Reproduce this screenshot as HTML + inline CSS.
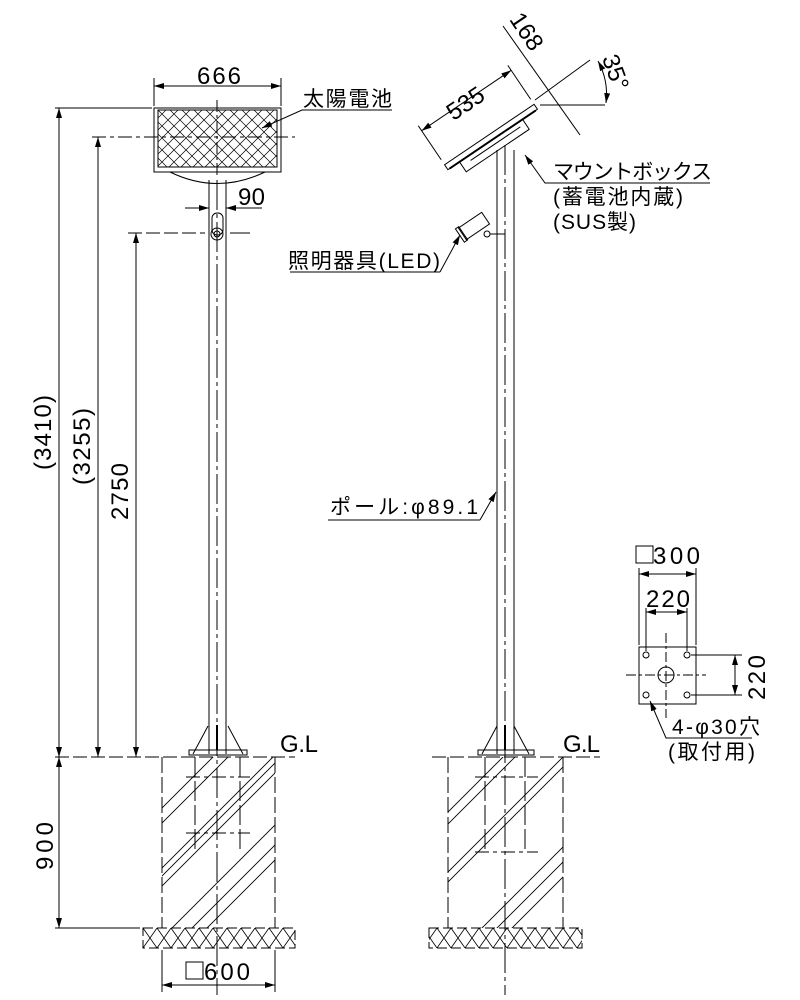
<!DOCTYPE html>
<html><head><meta charset="utf-8"><style>
html,body{margin:0;padding:0;background:#fff;}
svg{display:block;}
text{font-family:"Liberation Sans","Noto Sans CJK JP",sans-serif;fill:#000;}
</style></head><body>
<svg width="800" height="1000" viewBox="0 0 800 1000" xmlns="http://www.w3.org/2000/svg">
<defs>
<pattern id="xh" width="12" height="12" patternUnits="userSpaceOnUse">
<path d="M0,0L12,12M12,0L0,12" stroke="#000" stroke-width="0.7"/>
</pattern>
<pattern id="gr" width="14" height="20" patternUnits="userSpaceOnUse" x="143" y="928">
<path d="M0,0L14,20M14,0L0,20" stroke="#000" stroke-width="0.8"/>
</pattern>
<clipPath id="cl"><rect x="162" y="757" width="113" height="171"/></clipPath>
<clipPath id="cr"><rect x="448" y="757" width="115" height="171"/></clipPath>
<marker id="a" viewBox="0 0 10 6" refX="10" refY="3" markerWidth="10" markerHeight="6" orient="auto-start-reverse" markerUnits="userSpaceOnUse"><path d="M0,0L10,3L0,6z" fill="#000"/></marker>
</defs>
<g fill="none" stroke="#000" stroke-width="1">
<rect x="154" y="108" width="127" height="64"/>
<rect x="158" y="110" width="119" height="57" fill="url(#xh)"/>
<path d="M170,172 Q217,195 265,172"/>
<line x1="217" y1="100" x2="217" y2="175" stroke-dasharray="12,3,3,3"/>
<line x1="92" y1="137" x2="295" y2="137" stroke-dasharray="14,4,4,4"/>
<line x1="55" y1="108" x2="152" y2="108"/>
<line x1="154" y1="78" x2="154" y2="106"/><line x1="281" y1="78" x2="281" y2="106"/>
<line x1="154" y1="86" x2="281" y2="86" marker-start="url(#a)" marker-end="url(#a)"/>
<line x1="209" y1="180" x2="209" y2="754"/><line x1="226" y1="180" x2="226" y2="754"/>
<line x1="217" y1="180" x2="217" y2="995" stroke-dasharray="30,4,4,4"/>
<line x1="185" y1="208" x2="209" y2="208" marker-end="url(#a)"/>
<line x1="226" y1="208" x2="262" y2="208" marker-start="url(#a)"/>
<rect x="212" y="213" width="11" height="22" rx="5"/>
<circle cx="217" cy="234" r="6"/><circle cx="217" cy="234" r="3"/>
<line x1="128" y1="233" x2="205" y2="233" stroke-dasharray="14,4"/>
<line x1="230" y1="233" x2="250" y2="233"/>
<line x1="208" y1="726" x2="193" y2="754"/><line x1="228" y1="726" x2="243" y2="754"/>
<rect x="189" y="750" width="58" height="5"/>
<line x1="217" y1="725" x2="217" y2="750" stroke-width="2"/>
<line x1="55" y1="757" x2="295" y2="757" stroke-dasharray="14,4"/>
<line x1="162" y1="757" x2="162" y2="928" stroke-dasharray="16,4"/>
<line x1="275" y1="757" x2="275" y2="928" stroke-dasharray="16,4"/>
<line x1="195" y1="757" x2="195" y2="850" stroke-dasharray="20,4"/>
<line x1="240" y1="757" x2="240" y2="850" stroke-dasharray="20,4"/>
<line x1="186" y1="777" x2="250" y2="777" stroke-dasharray="14,4,4,4"/>
<line x1="186" y1="833" x2="250" y2="833" stroke-dasharray="14,4,4,4"/>
<g clip-path="url(#cl)" stroke-width="0.9">
<line x1="150" y1="820" x2="220" y2="750"/><line x1="150" y1="835" x2="230" y2="755"/>
<line x1="150" y1="880" x2="280" y2="750"/><line x1="150" y1="888" x2="280" y2="758"/><line x1="150" y1="898" x2="280" y2="768"/>
<line x1="170" y1="930" x2="290" y2="810"/><line x1="190" y1="930" x2="290" y2="830"/><line x1="205" y1="930" x2="290" y2="845"/>
</g>
<rect x="143" y="928" width="152" height="20" fill="url(#gr)" stroke-dasharray="10,4"/>
<line x1="162" y1="950" x2="162" y2="992"/><line x1="275" y1="950" x2="275" y2="992"/>
<line x1="162" y1="985" x2="275" y2="985" marker-start="url(#a)" marker-end="url(#a)"/>
<line x1="59" y1="108" x2="59" y2="757" marker-start="url(#a)" marker-end="url(#a)"/>
<line x1="98" y1="137" x2="98" y2="757" marker-start="url(#a)" marker-end="url(#a)"/>
<line x1="136" y1="233" x2="136" y2="757" marker-start="url(#a)" marker-end="url(#a)"/>
<line x1="59" y1="757" x2="59" y2="928" marker-start="url(#a)" marker-end="url(#a)"/>
<line x1="55" y1="928" x2="140" y2="928"/>
<path d="M262,128 L302,110 L392,110" marker-start="url(#a)"/>

<line x1="497" y1="150" x2="497" y2="754"/><line x1="514" y1="150" x2="514" y2="754"/>
<line x1="505" y1="145" x2="505" y2="995" stroke-dasharray="30,4,4,4"/>
<g transform="translate(491,137) rotate(-34)">
<rect x="-54" y="-3" width="108" height="6"/>
<line x1="-52" y1="3" x2="52" y2="3" stroke-width="2"/>
<rect x="-40" y="3" width="76" height="12"/>
<line x1="-30" y1="8" x2="30" y2="8"/>
<line x1="-54" y1="-9" x2="-54" y2="-50"/><line x1="54" y1="-9" x2="54" y2="-50"/>
<line x1="-54" y1="-44" x2="54" y2="-44" marker-start="url(#a)" marker-end="url(#a)"/>
</g>
<line x1="540" y1="105" x2="605" y2="105"/>
<line x1="535" y1="100" x2="590" y2="60"/>
<path d="M598,61 A70,70 0 0 1 606,103" marker-start="url(#a)" marker-end="url(#a)"/>
<line x1="503" y1="26" x2="580" y2="135"/>
<path d="M525,155 L545,183 L710,183" marker-start="url(#a)"/>
<g transform="translate(474,226) rotate(-34)">
<rect x="-14" y="-7" width="28" height="14"/>
<rect x="-17" y="-8" width="4" height="16"/>
</g>
<circle cx="487" cy="234" r="3"/>
<line x1="490" y1="234" x2="505" y2="234"/>
<path d="M440,272 L290,272 M440,272 L460,235" marker-end="url(#a)"/>
<path d="M480,520 L328,520 M480,520 L496,492" marker-end="url(#a)"/>
<line x1="497" y1="726" x2="482" y2="754"/><line x1="514" y1="726" x2="529" y2="754"/>
<rect x="478" y="750" width="56" height="5"/>
<line x1="505" y1="725" x2="505" y2="750" stroke-width="2"/>
<line x1="432" y1="757" x2="600" y2="757" stroke-dasharray="14,4"/>
<line x1="448" y1="757" x2="448" y2="928" stroke-dasharray="16,4"/>
<line x1="563" y1="757" x2="563" y2="928" stroke-dasharray="16,4"/>
<line x1="485" y1="757" x2="485" y2="852" stroke-dasharray="20,4"/>
<line x1="525" y1="757" x2="525" y2="852" stroke-dasharray="20,4"/>
<line x1="475" y1="777" x2="538" y2="777" stroke-dasharray="14,4,4,4"/>
<line x1="475" y1="852" x2="538" y2="852" stroke-dasharray="14,4,4,4"/>
<g clip-path="url(#cr)" stroke-width="0.9">
<line x1="440" y1="820" x2="510" y2="750"/><line x1="440" y1="832" x2="520" y2="752"/>
<line x1="440" y1="880" x2="570" y2="750"/><line x1="440" y1="890" x2="570" y2="760"/>
<line x1="480" y1="930" x2="570" y2="840"/><line x1="495" y1="930" x2="570" y2="855"/><line x1="510" y1="930" x2="570" y2="870"/>
</g>
<rect x="429" y="928" width="153" height="20" fill="url(#gr)" stroke-dasharray="10,4"/>

<rect x="639" y="647" width="57" height="57"/>
<circle cx="646" cy="655" r="3"/><circle cx="687" cy="655" r="3"/>
<circle cx="646" cy="695" r="3"/><circle cx="687" cy="695" r="3"/>
<circle cx="666" cy="675" r="8"/>
<line x1="666" y1="633" x2="666" y2="718" stroke-dasharray="10,3,3,3"/>
<line x1="626" y1="675" x2="706" y2="675" stroke-dasharray="10,3,3,3"/>
<line x1="639" y1="568" x2="639" y2="645"/><line x1="696" y1="568" x2="696" y2="645"/>
<line x1="639" y1="574" x2="696" y2="574" marker-start="url(#a)" marker-end="url(#a)"/>
<line x1="646" y1="608" x2="646" y2="651"/><line x1="687" y1="608" x2="687" y2="651"/>
<line x1="646" y1="612" x2="687" y2="612" marker-start="url(#a)" marker-end="url(#a)"/>
<line x1="691" y1="655" x2="742" y2="655"/><line x1="691" y1="695" x2="742" y2="695"/>
<line x1="735" y1="655" x2="735" y2="695" marker-start="url(#a)" marker-end="url(#a)"/>
<path d="M650,701 L666,738 L752,738" marker-start="url(#a)"/>
<rect x="636" y="546" width="17" height="17"/>
<rect x="186" y="962" width="17" height="17"/>
</g>

<g font-size="21">
<text x="303" y="106" textLength="89">太陽電池</text>
<text x="288" y="268" textLength="152">照明器具(LED)</text>
<text x="330" y="514" textLength="148">ポール:φ89.1</text>
<text x="553" y="179" textLength="159">マウントボックス</text>
<text x="553" y="204" textLength="130">(蓄電池内蔵)</text>
<text x="553" y="229" textLength="83">(SUS製)</text>
<text x="672" y="734" textLength="88">4-φ30穴</text>
<text x="668" y="759" textLength="87">(取付用)</text>
</g>
<g font-size="24">
<text x="197" y="84" textLength="44">666</text>
<text x="238" y="205" textLength="27">90</text>
<text x="280" y="752" textLength="38">G.L</text>
<text x="563" y="752" textLength="37">G.L</text>
<text transform="translate(51,470) rotate(-90)" textLength="75">(3410)</text>
<text transform="translate(90,485) rotate(-90)" textLength="77">(3255)</text>
<text transform="translate(128,520) rotate(-90)" textLength="57">2750</text>
<text transform="translate(53,870) rotate(-90)" textLength="48">900</text>
<text x="204" y="980" textLength="46">600</text>
<text transform="translate(470,110) rotate(-34)" text-anchor="middle">535</text>
<text transform="translate(520,36) rotate(56)" text-anchor="middle">168</text>
<text transform="translate(608,75) rotate(70)" text-anchor="middle">35°</text>
<text x="653" y="564" textLength="47">300</text>
<text x="646" y="607" textLength="44">220</text>
<text transform="translate(765,700) rotate(-90)" textLength="45">220</text>
</g>
</svg>
</body></html>
